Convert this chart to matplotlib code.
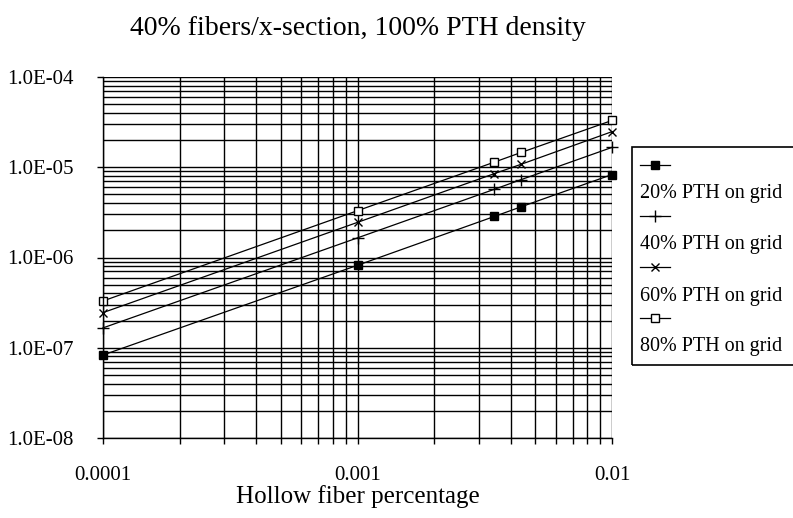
import matplotlib
matplotlib.use("Agg")
import matplotlib.pyplot as plt
from matplotlib.lines import Line2D
from matplotlib.patches import Rectangle
from matplotlib.ticker import LogLocator, FuncFormatter, NullFormatter

plt.rcParams['font.family'] = ['Liberation Serif', 'DejaVu Serif']

# data
hollow_pct = [0.0001, 0.001, 0.00345, 0.0044, 0.01]
pth_20 = [8.3e-8, 8.2e-7, 2.85e-6, 3.65e-6, 8.3e-6]
pth_40 = [1.66e-7, 1.65e-6, 5.7e-6, 7.3e-6, 1.66e-5]
pth_60 = [2.45e-7, 2.45e-6, 8.5e-6, 1.08e-5, 2.48e-5]
pth_80 = [3.3e-7, 3.3e-6, 1.14e-5, 1.46e-5, 3.3e-5]

series_names = ["20% PTH on grid", "40% PTH on grid", "60% PTH on grid", "80% PTH on grid"]
series_values = [pth_20, pth_40, pth_60, pth_80]
markers = [
    dict(marker='s', ms=6, mfc='black', mec='black'),
    dict(marker='+', ms=8, mew=1, mec='black'),
    dict(marker='x', ms=6, mew=1, mec='black'),
    dict(marker='s', ms=6, mfc='white', mec='black', mew=1),
]

W, H = 793, 518
fig = plt.figure(figsize=(W / 100, H / 100), dpi=100)
ax = fig.add_axes([103 / W, 1 - 438 / H, (612 - 103) / W, (438 - 77) / H])

for name, vals, mk in zip(series_names, series_values, markers):
    ax.plot(hollow_pct, vals, color='black', lw=0.9, label=name, clip_on=False, **mk)

ax.set_xscale('log')
ax.set_yscale('log')
ax.set_xlim(1e-4, 1e-2)
ax.set_ylim(1e-8, 1e-4)

ax.xaxis.set_major_locator(LogLocator(base=10, numticks=10))
ax.xaxis.set_minor_locator(LogLocator(base=10, subs=range(2, 10), numticks=20))
ax.yaxis.set_major_locator(LogLocator(base=10, numticks=10))
ax.yaxis.set_minor_locator(LogLocator(base=10, subs=range(2, 10), numticks=20))
ax.xaxis.set_major_formatter(FuncFormatter(lambda v, p: '%g' % v))
ax.yaxis.set_major_formatter(FuncFormatter(lambda v, p: '%.1E' % v))
ax.xaxis.set_minor_formatter(NullFormatter())
ax.yaxis.set_minor_formatter(NullFormatter())

ax.grid(True, which='both', color='black', lw=1.0)
ax.set_axisbelow(True)
for side in ['top', 'right']:
    ax.spines[side].set_visible(False)
for side in ['left', 'bottom']:
    ax.spines[side].set_linewidth(1.0)

ax.tick_params(axis='y', which='major', direction='out', length=4, width=1, pad=17, labelsize=15)
ax.tick_params(axis='y', which='minor', length=0)
ax.tick_params(axis='x', which='both', direction='out', length=4, width=1)
ax.tick_params(axis='x', which='major', pad=16, labelsize=15)

ax.set_xlabel("Hollow fiber percentage", fontsize=18, labelpad=0)
ax.set_title("40% fibers/x-section, 100% PTH density", fontsize=20, pad=30)

# legend box, old spreadsheet style: marker row, text row below it
fig.add_artist(Rectangle((632 / W, 1 - 365 / H), (800 - 632) / W, (365 - 147) / H,
                         transform=fig.transFigure, fill=False, ec='black', lw=1.2))
for i, (name, mk) in enumerate(zip(series_names, markers)):
    ym = 165 + 51 * i
    yt = 194 + 51 * i
    fig.add_artist(Line2D([640 / W, 670 / W], [1 - ym / H, 1 - ym / H],
                          transform=fig.transFigure, color='black', lw=0.9))
    fig.add_artist(Line2D([655 / W], [1 - ym / H], transform=fig.transFigure,
                          color='black', **mk))
    fig.text(640 / W, 1 - yt / H, name, fontsize=14.5, va='center', ha='left')

fig.savefig("out.png", dpi=100)
